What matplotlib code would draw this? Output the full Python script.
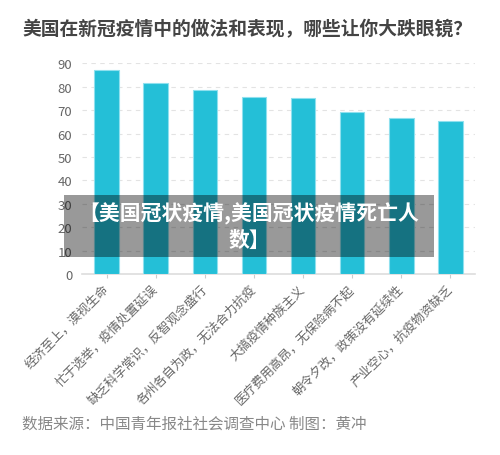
import matplotlib
matplotlib.use("Agg")
import matplotlib.pyplot as plt
from matplotlib.patches import Rectangle

plt.rcParams['font.family'] = ['Noto Sans CJK SC', 'DejaVu Sans']

title = "美国在新冠疫情中的做法和表现，哪些让你大跌眼镜？"
categories = ["经济至上，漠视生命", "忙于选举，疫情处置延误", "缺乏科学常识，反智观念盛行",
              "各州各自为政，无法合力抗疫", "大搞疫情种族主义", "医疗费用高昂，无保险病不起",
              "朝令夕改，政策没有延续性", "产业空心，抗疫物资缺乏"]
values = [87.1, 81.5, 78.7, 75.5, 75.3, 69.2, 66.5, 65.2]
yticks = [0, 10, 20, 30, 40, 50, 60, 70, 80, 90]
footer = "数据来源：中国青年报社社会调查中心 制图：黄冲"
overlay = "【美国冠状疫情,美国冠状疫情死亡人\n数】"

fig = plt.figure(figsize=(5.0, 4.56), dpi=100)
W, H = 500, 456
ax = fig.add_axes([82 / W, 1 - 275 / H, (475 - 82) / W, (275 - 64.3) / H])

x = list(range(len(categories)))
ax.bar(x, values, width=0.5, color='#24bfd7', edgecolor='#8fe0ee', linewidth=0.8, zorder=3)
ax.set_xlim(-0.5, len(categories) - 0.5)
ax.set_ylim(0, 90)
ax.set_yticks(yticks)
ax.set_yticklabels([str(v) for v in yticks], color='#666666', fontsize=9.5)
ax.yaxis.grid(True, linestyle=(0, (4, 4)), color='#e3e3e3', linewidth=0.8, zorder=0)
ax.set_axisbelow(True)
for s in ['top', 'right', 'left']:
    ax.spines[s].set_visible(False)
ax.spines['bottom'].set_color('#dddddd')
ax.spines['bottom'].set_linewidth(1.2)
ax.tick_params(axis='y', length=0, pad=7)
ax.tick_params(axis='x', length=3, color='#cccccc', pad=6)
ax.set_xticks(x)
ax.set_xticklabels(categories, rotation=45, ha='right', va='center', rotation_mode='anchor',
                   color='#666666', fontsize=9)

fig.text(22 / W, 1 - 30 / H, title, fontsize=13.5, color='#444444', fontweight='bold',
         va='center', ha='left')
fig.text(22 / W, 1 - 424 / H, footer, fontsize=11.2, color='#888888', va='center', ha='left')

fig.patches.append(Rectangle((64 / W, 1 - 258 / H), (434 - 64) / W, (258 - 196) / H,
                             transform=fig.transFigure, facecolor='black', alpha=0.4,
                             edgecolor='none', zorder=10))
fig.text(249 / W, 1 - 227 / H, overlay, fontsize=15, color='white', fontweight='bold',
         ha='center', va='center', linespacing=1.3, zorder=11, multialignment='center')

fig.savefig('out.png', dpi=100)
